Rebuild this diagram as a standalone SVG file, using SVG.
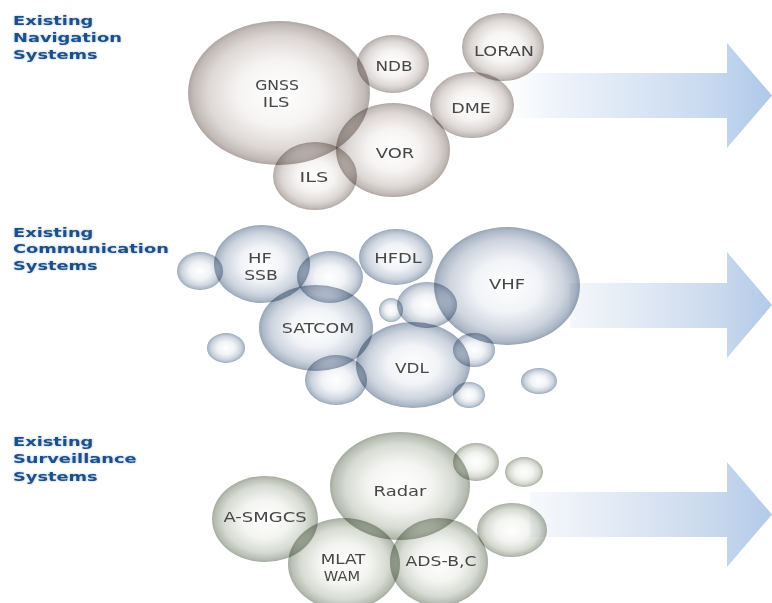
<svg xmlns="http://www.w3.org/2000/svg" width="772" height="603" viewBox="0 0 772 603">
  <defs>
    <!-- bubble shadings: bright core, darker rim -->
    <radialGradient id="gNav" cx="0.5" cy="0.5" r="0.5">
      <stop offset="0" stop-color="#ffffff"/>
      <stop offset="0.45" stop-color="#f6f4f3"/>
      <stop offset="0.78" stop-color="#ddd8d6"/>
      <stop offset="0.94" stop-color="#c2bbb8"/>
      <stop offset="1" stop-color="#aea6a3"/>
    </radialGradient>
    <radialGradient id="gCom" cx="0.5" cy="0.5" r="0.5">
      <stop offset="0" stop-color="#ffffff"/>
      <stop offset="0.45" stop-color="#f1f3f7"/>
      <stop offset="0.78" stop-color="#ced5df"/>
      <stop offset="0.94" stop-color="#adb8c7"/>
      <stop offset="1" stop-color="#97a3b4"/>
    </radialGradient>
    <radialGradient id="gSur" cx="0.5" cy="0.5" r="0.5">
      <stop offset="0" stop-color="#ffffff"/>
      <stop offset="0.45" stop-color="#f4f5f2"/>
      <stop offset="0.78" stop-color="#d7dbd3"/>
      <stop offset="0.94" stop-color="#b8beb3"/>
      <stop offset="1" stop-color="#a4ab9f"/>
    </radialGradient>
    <!-- arrow fills fading in from the left -->
    <linearGradient id="gArrowNav" gradientUnits="userSpaceOnUse" x1="505" y1="0" x2="772" y2="0">
      <stop offset="0" stop-color="#ffffff"/>
      <stop offset="0.2" stop-color="#eef3fa"/>
      <stop offset="0.75" stop-color="#c9daf0"/>
      <stop offset="1" stop-color="#aec8e9"/>
    </linearGradient>
    <linearGradient id="gArrowCom" gradientUnits="userSpaceOnUse" x1="570" y1="0" x2="772" y2="0">
      <stop offset="0" stop-color="#f4f7fb"/>
      <stop offset="0.7" stop-color="#cddbee"/>
      <stop offset="1" stop-color="#b2cae9"/>
    </linearGradient>
    <linearGradient id="gArrowSur" gradientUnits="userSpaceOnUse" x1="530" y1="0" x2="772" y2="0">
      <stop offset="0" stop-color="#f7f9fc"/>
      <stop offset="0.7" stop-color="#cddbee"/>
      <stop offset="1" stop-color="#b2cae9"/>
    </linearGradient>
    <filter id="halo" x="-10%" y="-30%" width="120%" height="160%">
      <feGaussianBlur stdDeviation="1.3"/>
    </filter>
  </defs>
  <style>
    .bub { mix-blend-mode: multiply; }
    .nav { fill: url(#gNav); }
    .com { fill: url(#gCom); }
    .sur { fill: url(#gSur); }
    .lbl { font-family: "DejaVu Sans", Verdana, sans-serif; font-size: 14.5px; fill: #474747; text-anchor: middle; }
    .ttl { font-family: "DejaVu Sans", Verdana, sans-serif; font-size: 13px; font-weight: bold; fill: #1f4f87; }
    .halo { fill: #a3bddc; filter: url(#halo); }
  </style>

  <rect width="772" height="603" fill="#ffffff"/>

  <!-- arrows pointing right, one per system group -->
  <g id="arrows">
    <polygon fill="url(#gArrowNav)" points="505,73 727,73 727,43 772,95.5 727,148 727,118 505,118"/>
    <polygon fill="url(#gArrowCom)" points="570,283 727,283 727,252 772,305 727,358 727,328 570,328"/>
    <polygon fill="url(#gArrowSur)" points="530,492 727,492 727,462 772,514.5 727,567 727,537 530,537"/>
  </g>

  <!-- section titles (wide bold face) -->
  <g id="title-nav" transform="translate(13,0) scale(1.37,1)">
    <text class="ttl halo"><tspan x="0" y="25">Existing</tspan><tspan x="0" y="42">Navigation</tspan><tspan x="0" y="59">Systems</tspan></text>
    <text class="ttl"><tspan x="0" y="25">Existing</tspan><tspan x="0" y="42">Navigation</tspan><tspan x="0" y="59">Systems</tspan></text>
  </g>
  <g id="title-com" transform="translate(13,0) scale(1.37,1)">
    <text class="ttl halo"><tspan x="0" y="237">Existing</tspan><tspan x="0" y="253">Communication</tspan><tspan x="0" y="270">Systems</tspan></text>
    <text class="ttl"><tspan x="0" y="237">Existing</tspan><tspan x="0" y="253">Communication</tspan><tspan x="0" y="270">Systems</tspan></text>
  </g>
  <g id="title-sur" transform="translate(13,0) scale(1.37,1)">
    <text class="ttl halo"><tspan x="0" y="446">Existing</tspan><tspan x="0" y="463">Surveillance</tspan><tspan x="0" y="481">Systems</tspan></text>
    <text class="ttl"><tspan x="0" y="446">Existing</tspan><tspan x="0" y="463">Surveillance</tspan><tspan x="0" y="481">Systems</tspan></text>
  </g>

  <!-- navigation systems -->
  <g id="nav-gnss"><ellipse class="bub nav" cx="279" cy="93" rx="91" ry="72"/></g>
  <g id="nav-ndb"><ellipse class="bub nav" cx="393" cy="64" rx="36" ry="29"/></g>
  <g id="nav-loran"><ellipse class="bub nav" cx="503" cy="47" rx="41" ry="34"/></g>
  <g id="nav-dme"><ellipse class="bub nav" cx="472" cy="105" rx="42" ry="33"/></g>
  <g id="nav-vor"><ellipse class="bub nav" cx="393" cy="150" rx="57" ry="47"/></g>
  <g id="nav-ils"><ellipse class="bub nav" cx="315" cy="176" rx="42" ry="34"/></g>
  <g id="nav-labels">
    <text class="lbl" transform="translate(277,90) scale(1.08,1)">GNSS</text>
    <text class="lbl" transform="translate(276,107) scale(1.24,1)">ILS</text>
    <text class="lbl" transform="translate(394,71) scale(1.16,1)">NDB</text>
    <text class="lbl" transform="translate(504,56) scale(1.22,1)">LORAN</text>
    <text class="lbl" transform="translate(471,113) scale(1.21,1)">DME</text>
    <text class="lbl" transform="translate(395,158) scale(1.24,1)">VOR</text>
    <text class="lbl" transform="translate(314,182) scale(1.34,1)">ILS</text>
  </g>

  <!-- communication systems -->
  <g id="com-b1"><ellipse class="bub com" cx="200" cy="271" rx="23" ry="19"/></g>
  <g id="com-hf"><ellipse class="bub com" cx="262" cy="264" rx="48" ry="39"/></g>
  <g id="com-b2"><ellipse class="bub com" cx="330" cy="277" rx="33" ry="26"/></g>
  <g id="com-hfdl"><ellipse class="bub com" cx="396" cy="257" rx="37" ry="28"/></g>
  <g id="com-vhf"><ellipse class="bub com" cx="507" cy="286" rx="73" ry="59"/></g>
  <g id="com-satcom"><ellipse class="bub com" cx="316" cy="328" rx="57" ry="43"/></g>
  <g id="com-b3"><ellipse class="bub com" cx="427" cy="305" rx="30" ry="23"/></g>
  <g id="com-b4"><ellipse class="bub com" cx="391" cy="310" rx="12" ry="12"/></g>
  <g id="com-vdl"><ellipse class="bub com" cx="413" cy="365" rx="57" ry="43"/></g>
  <g id="com-b5"><ellipse class="bub com" cx="336" cy="380" rx="31" ry="25"/></g>
  <g id="com-b6"><ellipse class="bub com" cx="474" cy="350" rx="21" ry="17"/></g>
  <g id="com-b7"><ellipse class="bub com" cx="469" cy="395" rx="16" ry="13"/></g>
  <g id="com-b8"><ellipse class="bub com" cx="539" cy="381" rx="18" ry="13"/></g>
  <g id="com-b9"><ellipse class="bub com" cx="226" cy="348" rx="19" ry="15"/></g>
  <g id="com-labels">
    <text class="lbl" transform="translate(260,263) scale(1.24,1)">HF</text>
    <text class="lbl" transform="translate(261,280) scale(1.19,1)">SSB</text>
    <text class="lbl" transform="translate(398,263) scale(1.24,1)">HFDL</text>
    <text class="lbl" transform="translate(507,289) scale(1.24,1)">VHF</text>
    <text class="lbl" transform="translate(318,333) scale(1.2,1)">SATCOM</text>
    <text class="lbl" transform="translate(412,373) scale(1.16,1)">VDL</text>
  </g>

  <!-- surveillance systems -->
  <g id="sur-asmgcs"><ellipse class="bub sur" cx="265" cy="519" rx="53" ry="43"/></g>
  <g id="sur-radar"><ellipse class="bub sur" cx="400" cy="486" rx="70" ry="54"/></g>
  <g id="sur-b1"><ellipse class="bub sur" cx="476" cy="462" rx="23" ry="19"/></g>
  <g id="sur-b2"><ellipse class="bub sur" cx="524" cy="472" rx="19" ry="15"/></g>
  <g id="sur-b3"><ellipse class="bub sur" cx="512" cy="530" rx="35" ry="27"/></g>
  <g id="sur-mlat"><ellipse class="bub sur" cx="344" cy="564" rx="56" ry="46"/></g>
  <g id="sur-adsb"><ellipse class="bub sur" cx="439" cy="562" rx="49" ry="44"/></g>
  <g id="sur-labels">
    <text class="lbl" transform="translate(265,522) scale(1.24,1)">A-SMGCS</text>
    <text class="lbl" transform="translate(400,496) scale(1.24,1)">Radar</text>
    <text class="lbl" transform="translate(343,564) scale(1.16,1)">MLAT</text>
    <text class="lbl" transform="translate(342,581) scale(1.01,1)">WAM</text>
    <text class="lbl" transform="translate(441,566) scale(1.19,1)">ADS-B,C</text>
  </g>
</svg>
